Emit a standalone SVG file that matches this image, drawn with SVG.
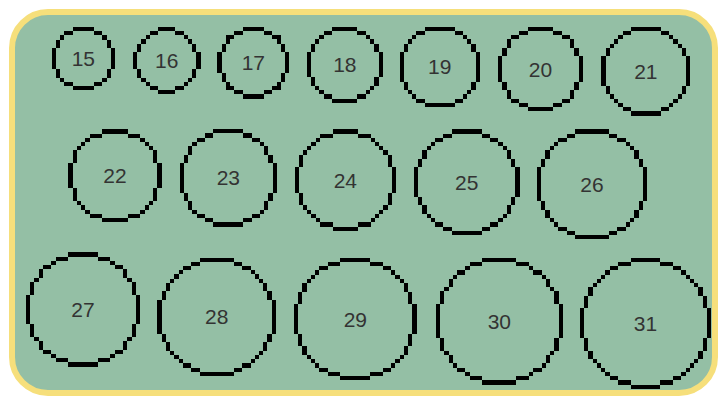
<svg xmlns="http://www.w3.org/2000/svg" xmlns:xlink="http://www.w3.org/1999/xlink" width="720" height="397" viewBox="0 0 720 397">
<style>
.q{fill:#000;shape-rendering:crispEdges}
.lbl{font-family:"Liberation Sans",Arial,sans-serif;font-size:21px;fill:#333;text-anchor:middle;dominant-baseline:central}
</style>
<defs>
<path id="q15" class="q" d="M0,-7.5H2.5V-6.5H4.5V-5.5H5.5V-4.5H6.5V-2.5H7.5V0H6.5V-2.5H5.5V-4.5H4.5V-5.5H2.5V-6.5H0Z"/>
<path id="q16" class="q" d="M0,-8H2V-7H4V-6H5V-5H6V-4H7V-2H8V0H7V-2H6V-4H5V-5H4V-6H2V-7H0Z"/>
<path id="q17" class="q" d="M0,-8.5H2.5V-7.5H4.5V-6.5H6.5V-4.5H7.5V-2.5H8.5V0H7.5V-2.5H6.5V-4.5H5.5V-5.5H4.5V-6.5H2.5V-7.5H0Z"/>
<path id="q18" class="q" d="M0,-9H3V-8H5V-7H6V-6H7V-5H8V-3H9V0H8V-3H7V-5H6V-6H5V-7H3V-8H0Z"/>
<path id="q19" class="q" d="M0,-9.5H3.5V-8.5H5.5V-7.5H6.5V-6.5H7.5V-5.5H8.5V-3.5H9.5V0H8.5V-3.5H7.5V-5.5H6.5V-6.5H5.5V-7.5H3.5V-8.5H0Z"/>
<path id="q20" class="q" d="M0,-10H3V-9H5V-8H7V-7H8V-5H9V-3H10V0H9V-3H8V-5H7V-7H5V-8H3V-9H0Z"/>
<path id="q21" class="q" d="M0,-10.5H3.5V-9.5H5.5V-8.5H6.5V-7.5H7.5V-6.5H8.5V-5.5H9.5V-3.5H10.5V0H9.5V-3.5H8.5V-5.5H7.5V-6.5H6.5V-7.5H5.5V-8.5H3.5V-9.5H0Z"/>
<path id="q22" class="q" d="M0,-11H3V-10H6V-9H7V-8H8V-7H9V-6H10V-3H11V0H10V-3H9V-6H8V-7H7V-8H6V-9H3V-10H0Z"/>
<path id="q23" class="q" d="M0,-11.5H3.5V-10.5H5.5V-9.5H7.5V-8.5H8.5V-7.5H9.5V-5.5H10.5V-3.5H11.5V0H10.5V-3.5H9.5V-5.5H8.5V-7.5H7.5V-8.5H5.5V-9.5H3.5V-10.5H0Z"/>
<path id="q24" class="q" d="M0,-12H3V-11H6V-10H7V-9H8V-8H9V-7H10V-6H11V-3H12V0H11V-3H10V-6H9V-7H8V-8H7V-9H6V-10H3V-11H0Z"/>
<path id="q25" class="q" d="M0,-12.5H3.5V-11.5H5.5V-10.5H7.5V-9.5H8.5V-8.5H9.5V-7.5H10.5V-5.5H11.5V-3.5H12.5V0H11.5V-3.5H10.5V-5.5H9.5V-7.5H8.5V-8.5H7.5V-9.5H5.5V-10.5H3.5V-11.5H0Z"/>
<path id="q26" class="q" d="M0,-13H4V-12H6V-11H8V-10H9V-9H10V-8H11V-6H12V-4H13V0H12V-4H11V-6H10V-8H9V-9H8V-10H6V-11H4V-12H0Z"/>
<path id="q27" class="q" d="M0,-13.5H3.5V-12.5H6.5V-11.5H7.5V-10.5H9.5V-9.5H10.5V-7.5H11.5V-6.5H12.5V-3.5H13.5V0H12.5V-3.5H11.5V-6.5H10.5V-7.5H9.5V-9.5H7.5V-10.5H6.5V-11.5H3.5V-12.5H0Z"/>
<path id="q28" class="q" d="M0,-14H4V-13H6V-12H8V-11H9V-10H10V-9H11V-8H12V-6H13V-4H14V0H13V-4H12V-6H11V-8H10V-9H9V-10H8V-11H6V-12H4V-13H0Z"/>
<path id="q29" class="q" d="M0,-14.5H3.5V-13.5H6.5V-12.5H8.5V-11.5H9.5V-10.5H10.5V-9.5H11.5V-8.5H12.5V-6.5H13.5V-3.5H14.5V0H13.5V-3.5H12.5V-6.5H11.5V-8.5H10.5V-9.5H9.5V-10.5H8.5V-11.5H6.5V-12.5H3.5V-13.5H0Z"/>
<path id="q30" class="q" d="M0,-15H4V-14H7V-13H8V-12H10V-11H11V-10H12V-8H13V-7H14V-4H15V0H14V-4H13V-7H12V-8H11V-10H10V-11H8V-12H7V-13H4V-14H0Z"/>
<path id="q31" class="q" d="M0,-15.5H3.5V-14.5H6.5V-13.5H8.5V-12.5H9.5V-11.5H10.5V-10.5H11.5V-9.5H12.5V-8.5H13.5V-6.5H14.5V-3.5H15.5V0H14.5V-3.5H13.5V-6.5H12.5V-8.5H11.5V-9.5H10.5V-10.5H9.5V-11.5H8.5V-12.5H6.5V-13.5H3.5V-14.5H0Z"/>
<g id="r15"><use href="#q15"/><use href="#q15" transform="scale(-1,1)"/><use href="#q15" transform="scale(1,-1)"/><use href="#q15" transform="scale(-1,-1)"/></g>
<g id="r16"><use href="#q16"/><use href="#q16" transform="scale(-1,1)"/><use href="#q16" transform="scale(1,-1)"/><use href="#q16" transform="scale(-1,-1)"/></g>
<g id="r17"><use href="#q17"/><use href="#q17" transform="scale(-1,1)"/><use href="#q17" transform="scale(1,-1)"/><use href="#q17" transform="scale(-1,-1)"/></g>
<g id="r18"><use href="#q18"/><use href="#q18" transform="scale(-1,1)"/><use href="#q18" transform="scale(1,-1)"/><use href="#q18" transform="scale(-1,-1)"/></g>
<g id="r19"><use href="#q19"/><use href="#q19" transform="scale(-1,1)"/><use href="#q19" transform="scale(1,-1)"/><use href="#q19" transform="scale(-1,-1)"/></g>
<g id="r20"><use href="#q20"/><use href="#q20" transform="scale(-1,1)"/><use href="#q20" transform="scale(1,-1)"/><use href="#q20" transform="scale(-1,-1)"/></g>
<g id="r21"><use href="#q21"/><use href="#q21" transform="scale(-1,1)"/><use href="#q21" transform="scale(1,-1)"/><use href="#q21" transform="scale(-1,-1)"/></g>
<g id="r22"><use href="#q22"/><use href="#q22" transform="scale(-1,1)"/><use href="#q22" transform="scale(1,-1)"/><use href="#q22" transform="scale(-1,-1)"/></g>
<g id="r23"><use href="#q23"/><use href="#q23" transform="scale(-1,1)"/><use href="#q23" transform="scale(1,-1)"/><use href="#q23" transform="scale(-1,-1)"/></g>
<g id="r24"><use href="#q24"/><use href="#q24" transform="scale(-1,1)"/><use href="#q24" transform="scale(1,-1)"/><use href="#q24" transform="scale(-1,-1)"/></g>
<g id="r25"><use href="#q25"/><use href="#q25" transform="scale(-1,1)"/><use href="#q25" transform="scale(1,-1)"/><use href="#q25" transform="scale(-1,-1)"/></g>
<g id="r26"><use href="#q26"/><use href="#q26" transform="scale(-1,1)"/><use href="#q26" transform="scale(1,-1)"/><use href="#q26" transform="scale(-1,-1)"/></g>
<g id="r27"><use href="#q27"/><use href="#q27" transform="scale(-1,1)"/><use href="#q27" transform="scale(1,-1)"/><use href="#q27" transform="scale(-1,-1)"/></g>
<g id="r28"><use href="#q28"/><use href="#q28" transform="scale(-1,1)"/><use href="#q28" transform="scale(1,-1)"/><use href="#q28" transform="scale(-1,-1)"/></g>
<g id="r29"><use href="#q29"/><use href="#q29" transform="scale(-1,1)"/><use href="#q29" transform="scale(1,-1)"/><use href="#q29" transform="scale(-1,-1)"/></g>
<g id="r30"><use href="#q30"/><use href="#q30" transform="scale(-1,1)"/><use href="#q30" transform="scale(1,-1)"/><use href="#q30" transform="scale(-1,-1)"/></g>
<g id="r31"><use href="#q31"/><use href="#q31" transform="scale(-1,1)"/><use href="#q31" transform="scale(1,-1)"/><use href="#q31" transform="scale(-1,-1)"/></g>
</defs>
<rect width="720" height="397" fill="#ffffff"/>
<rect id="panel" x="12" y="12" width="703" height="381" rx="36" ry="36" fill="#94bfa5" stroke="#f6df7b" stroke-width="6"/>
<g id="connectors"/>
<g id="n15" transform="translate(83.3,58.6)"><use href="#r15" transform="scale(4.23)"/><text class="lbl" x="0" y="0">15</text></g>
<g id="n16" transform="translate(166.7,60.6)"><use href="#r16" transform="scale(4.23)"/><text class="lbl" x="0" y="0">16</text></g>
<g id="n17" transform="translate(253.3,62.7)"><use href="#r17" transform="scale(4.23)"/><text class="lbl" x="0" y="0">17</text></g>
<g id="n18" transform="translate(344.8,64.8)"><use href="#r18" transform="scale(4.23)"/><text class="lbl" x="0" y="0">18</text></g>
<g id="n19" transform="translate(439.7,66.9)"><use href="#r19" transform="scale(4.23)"/><text class="lbl" x="0" y="0">19</text></g>
<g id="n20" transform="translate(540.5,69)"><use href="#r20" transform="scale(4.23)"/><text class="lbl" x="0" y="0">20</text></g>
<g id="n21" transform="translate(645.8,71.1)"><use href="#r21" transform="scale(4.23)"/><text class="lbl" x="0" y="0">21</text></g>
<g id="n22" transform="translate(115,175.8)"><use href="#r22" transform="scale(4.23)"/><text class="lbl" x="0" y="0">22</text></g>
<g id="n23" transform="translate(228.3,177.9)"><use href="#r23" transform="scale(4.23)"/><text class="lbl" x="0" y="0">23</text></g>
<g id="n24" transform="translate(345.3,180.1)"><use href="#r24" transform="scale(4.23)"/><text class="lbl" x="0" y="0">24</text></g>
<g id="n25" transform="translate(466.7,182.2)"><use href="#r25" transform="scale(4.23)"/><text class="lbl" x="0" y="0">25</text></g>
<g id="n26" transform="translate(592,184.3)"><use href="#r26" transform="scale(4.23)"/><text class="lbl" x="0" y="0">26</text></g>
<g id="n27" transform="translate(83,309.6)"><use href="#r27" transform="scale(4.23)"/><text class="lbl" x="0" y="0">27</text></g>
<g id="n28" transform="translate(216.7,316.8)"><use href="#r28" transform="scale(4.23)"/><text class="lbl" x="0" y="0">28</text></g>
<g id="n29" transform="translate(355.3,319)"><use href="#r29" transform="scale(4.23)"/><text class="lbl" x="0" y="0">29</text></g>
<g id="n30" transform="translate(499.3,321.1)"><use href="#r30" transform="scale(4.23)"/><text class="lbl" x="0" y="0">30</text></g>
<g id="n31" transform="translate(645.5,323.3)"><use href="#r31" transform="scale(4.23)"/><text class="lbl" x="0" y="0">31</text></g>
</svg>
